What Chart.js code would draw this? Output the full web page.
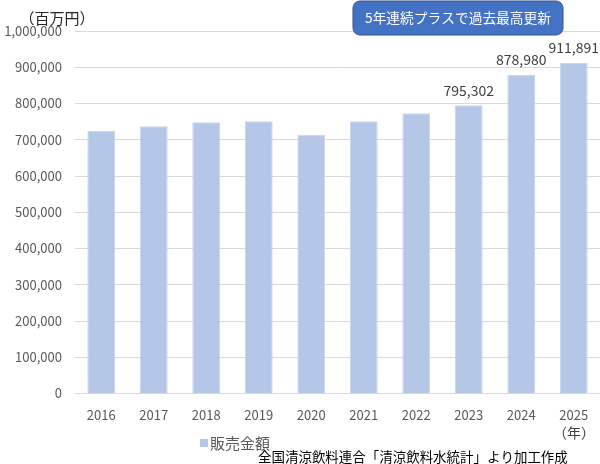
<!DOCTYPE html>
<html>
<head>
<meta charset="utf-8">
<script src="https://cdn.jsdelivr.net/npm/chart.js@4"></script>
<style>
  html, body { margin: 0; padding: 0; background: #fff; }
  #wrap { width: 600px; height: 464px; position: relative; }
</style>
</head>
<body>
<div id="wrap"><canvas id="salesChart"></canvas></div>
<script>
const years = ['2016', '2017', '2018', '2019', '2020', '2021', '2022', '2023', '2024', '2025'];
const sales = [725000, 737000, 748000, 751000, 714000, 751000, 773000, 795302, 878980, 911891];
const labelledYears = ['2023', '2024', '2025'];
const yMax = 1000000;
const yStep = 100000;

const FONT = "'Noto Sans CJK JP', 'Noto Sans', sans-serif";

// shrink a font so the text fits a given width
function fitFont(ctx, text, size, maxWidth) {
  ctx.font = size + 'px ' + FONT;
  const w = ctx.measureText(text).width;
  if (w > maxWidth) ctx.font = (size * maxWidth / w).toFixed(2) + 'px ' + FONT;
}

// extra texts: unit, callout, legend, source
const decorations = {
  id: 'decorations',
  afterDraw(chart) {
    const ctx = chart.ctx;
    ctx.save();

    // unit label
    ctx.fillStyle = '#262626';
    ctx.textAlign = 'center';
    ctx.textBaseline = 'middle';
    ctx.font = '15px ' + FONT;
    ctx.fillText('（百万円）', 57, 18);

    // callout box
    ctx.beginPath();
    ctx.roundRect(353, 1, 210, 34, 7);
    ctx.fillStyle = '#4472c4';
    ctx.fill();
    ctx.strokeStyle = '#2f528f';
    ctx.lineWidth = 1;
    ctx.stroke();
    ctx.fillStyle = '#ffffff';
    fitFont(ctx, '5年連続プラスで過去最高更新', 14, 186);
    ctx.fillText('5年連続プラスで過去最高更新', 458, 18);

    // year unit
    ctx.fillStyle = '#404040';
    ctx.font = '14px ' + FONT;
    ctx.fillText('（年）', 574, 433);

    // legend
    ctx.fillStyle = '#b4c7e7';
    ctx.fillRect(200, 439, 8, 8);
    ctx.fillStyle = '#595959';
    ctx.font = '15px ' + FONT;
    ctx.textAlign = 'left';
    ctx.fillText('販売金額', 210, 443);

    // source
    ctx.fillStyle = '#000000';
    fitFont(ctx, '全国清涼飲料連合「清涼飲料水統計」より加工作成', 14, 310);
    ctx.fillText('全国清涼飲料連合「清涼飲料水統計」より加工作成', 258, 457);

    ctx.restore();
  }
};

// value labels above the last bars
const valueLabels = {
  id: 'valueLabels',
  afterDatasetsDraw(chart) {
    const ctx = chart.ctx;
    const meta = chart.getDatasetMeta(0);
    ctx.save();
    ctx.fillStyle = '#404040';
    ctx.font = '14px ' + FONT;
    ctx.textAlign = 'center';
    ctx.textBaseline = 'middle';
    meta.data.forEach((bar, i) => {
      if (!labelledYears.includes(years[i])) return;
      ctx.fillText(sales[i].toLocaleString('en-US'), bar.x, bar.y - 15);
    });
    ctx.restore();
  }
};

const ctx = document.getElementById('salesChart').getContext('2d');
new Chart(ctx, {
  type: 'bar',
  data: {
    labels: years,
    datasets: [{
      label: '販売金額',
      data: sales,
      backgroundColor: '#b4c7e7',
      borderColor: '#c5d4ee',
      borderWidth: 1,
      barPercentage: 0.53,
      categoryPercentage: 1
    }]
  },
  options: {
    responsive: true,
    maintainAspectRatio: false,
    animation: false,
    layout: { padding: { top: 31, left: 0, right: 0, bottom: 0 } },
    plugins: {
      legend: { display: false },
      tooltip: { enabled: false }
    },
    scales: {
      x: {
        grid: { display: false },
        border: { display: false },
        ticks: {
          color: '#595959',
          font: { family: FONT, size: 13 },
          padding: 6,
          maxRotation: 0
        },
        afterFit(scale) { scale.height = 70.5; }
      },
      y: {
        min: 0,
        max: yMax,
        grid: { color: '#d9d9d9', drawTicks: false },
        border: { display: false },
        ticks: {
          stepSize: yStep,
          color: '#595959',
          font: { family: FONT, size: 13 },
          padding: 13,
          callback: v => v.toLocaleString('en-US')
        },
        afterFit(scale) { scale.width = 75; }
      }
    }
  },
  plugins: [valueLabels, decorations]
});
</script>
</body>
</html>
